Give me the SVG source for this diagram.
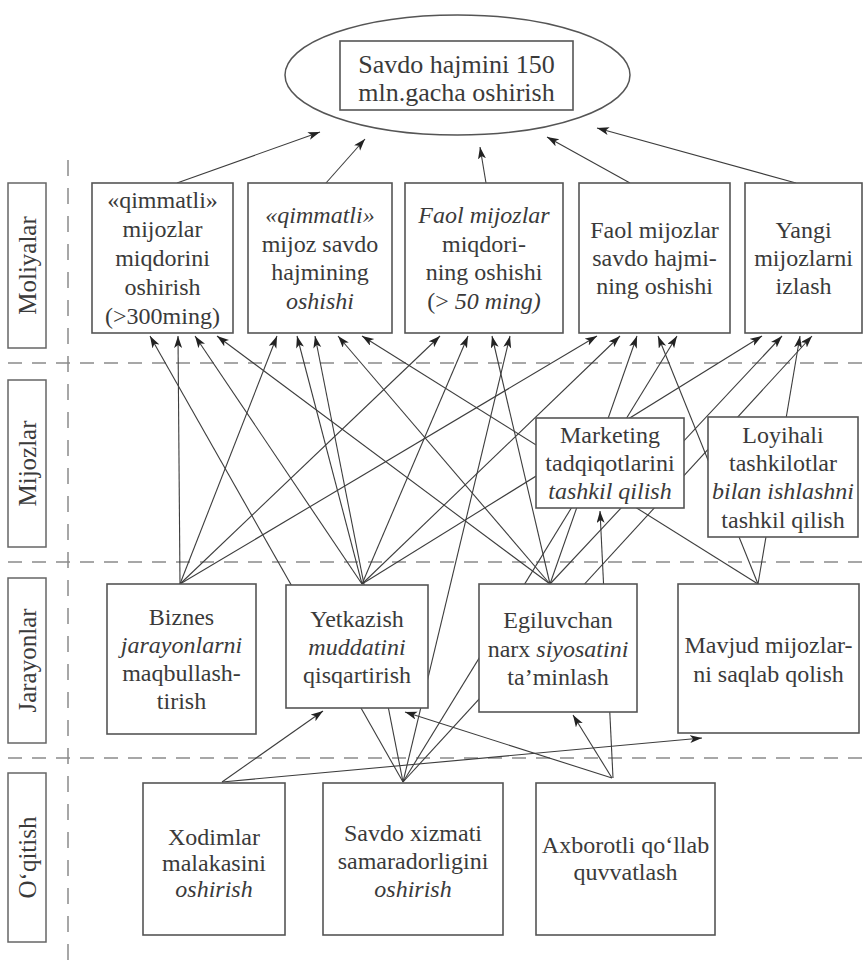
<svg xmlns="http://www.w3.org/2000/svg" width="866" height="962" viewBox="0 0 866 962" font-family="'Liberation Serif', 'DejaVu Serif', 'Times New Roman', serif">
<defs>
<marker id="ah" markerUnits="userSpaceOnUse" markerWidth="13" markerHeight="9" refX="12" refY="4" orient="auto">
<path d="M0,0 L12,4 L0,8 L3,4 z" fill="#222"/>
</marker>
<style>
.bx{fill:#fff;stroke:#555;stroke-width:1.6}
.lb{fill:#fff;stroke:#666;stroke-width:1.5}
.t{font-size:24px;fill:#3a3a3a;text-anchor:middle}
.lt{font-size:25px;fill:#3a3a3a;text-anchor:middle}
.i{font-style:italic}
.c line{stroke:#3d3d3d;stroke-width:1.1;marker-end:url(#ah)}
.d{stroke:#8a8a8a;stroke-width:1.5;stroke-dasharray:14 10;fill:none}
</style>
</defs>
<rect width="866" height="962" fill="#fff"/>

<g id="grid">
<line class="d" x1="8" y1="363" x2="866" y2="363"/>
<line class="d" x1="8" y1="562" x2="866" y2="562"/>
<line class="d" x1="8" y1="758" x2="866" y2="758"/>
<line class="d" x1="68" y1="160" x2="68" y2="960" style="stroke-dasharray:16 12"/>
</g>

<g id="lanes" font-family="'Liberation Serif', 'DejaVu Serif', serif">
<rect class="lb" x="8" y="183" width="38" height="165"/>
<text class="lt" font-family="'Liberation Serif', 'DejaVu Serif', serif" transform="translate(36,265.5) rotate(-90)">Moliyalar</text>
<rect class="lb" x="8" y="380" width="38" height="167"/>
<text class="lt" font-family="'Liberation Serif', 'DejaVu Serif', serif" transform="translate(36,463.5) rotate(-90)">Mijozlar</text>
<rect class="lb" x="8" y="578" width="38" height="165"/>
<text class="lt" font-family="'Liberation Serif', 'DejaVu Serif', serif" transform="translate(36,660.5) rotate(-90)">Jarayonlar</text>
<rect class="lb" x="8" y="773" width="38" height="169"/>
<text class="lt" font-family="'Liberation Serif', 'DejaVu Serif', serif" transform="translate(36,857.5) rotate(-90)">O‘qitish</text>
</g>

<g id="connectors" class="c">
<line x1="177" y1="183" x2="320" y2="132"/>
<line x1="326" y1="183" x2="365" y2="139"/>
<line x1="486" y1="183" x2="480" y2="147"/>
<line x1="630" y1="183" x2="547" y2="137"/>
<line x1="796" y1="183" x2="597" y2="128"/>
<line x1="403" y1="782" x2="150" y2="336"/>
<line x1="180" y1="584" x2="178" y2="336"/>
<line x1="362" y1="584" x2="195" y2="336"/>
<line x1="550" y1="584" x2="217" y2="336"/>
<line x1="180" y1="584" x2="277" y2="336"/>
<line x1="362" y1="584" x2="297" y2="336"/>
<line x1="403" y1="782" x2="315" y2="336"/>
<line x1="550" y1="584" x2="338" y2="336"/>
<line x1="758" y1="584" x2="362" y2="336"/>
<line x1="180" y1="584" x2="440" y2="336"/>
<line x1="362" y1="584" x2="468" y2="336"/>
<line x1="550" y1="584" x2="492" y2="336"/>
<line x1="403" y1="782" x2="510" y2="336"/>
<line x1="180" y1="584" x2="597" y2="336"/>
<line x1="362" y1="584" x2="620" y2="336"/>
<line x1="550" y1="584" x2="637" y2="336"/>
<line x1="758" y1="584" x2="658" y2="336"/>
<line x1="403" y1="782" x2="677" y2="336"/>
<line x1="362" y1="584" x2="762" y2="336"/>
<line x1="550" y1="584" x2="782" y2="336"/>
<line x1="758" y1="584" x2="800" y2="336"/>
<line x1="403" y1="782" x2="812" y2="336"/>
<line x1="222" y1="782" x2="323" y2="711"/>
<line x1="222" y1="782" x2="702" y2="738"/>
<line x1="612" y1="778" x2="405" y2="712"/>
<line x1="612" y1="778" x2="573" y2="715"/>
<line x1="613" y1="778" x2="600" y2="511"/>
</g>

<g id="goal">
<ellipse cx="457.5" cy="75" rx="172.5" ry="60" fill="#fff" stroke="#555" stroke-width="1.5"/>
<rect class="bx" x="340" y="41" width="233" height="69"/>
<text class="t" style="font-size:26px" x="456.5" y="73">Savdo hajmini 150</text>
<text class="t" style="font-size:26px" x="456.5" y="101">mln.gacha oshirish</text>
</g>

<g id="f1">
<rect class="bx" x="92" y="183" width="141" height="150"/>
<text class="t" x="162.5" y="208">«qimmatli»</text>
<text class="t" x="162.5" y="237">mijozlar</text>
<text class="t" x="162.5" y="266">miqdorini</text>
<text class="t" x="162.5" y="295">oshirish</text>
<text class="t" x="162.5" y="324">(&gt;300ming)</text>
</g>
<g id="f2">
<rect class="bx" x="248" y="183" width="144" height="150"/>
<text class="t i" x="320" y="223">«qimmatli»</text>
<text class="t" x="320" y="252">mijoz savdo</text>
<text class="t" x="320" y="280">hajmining</text>
<text class="t i" x="320" y="309">oshishi</text>
</g>
<g id="f3">
<rect class="bx" x="405" y="183" width="158" height="150"/>
<text class="t i" x="484" y="223">Faol mijozlar</text>
<text class="t" x="484" y="252">miqdori-</text>
<text class="t" x="484" y="280">ning oshishi</text>
<text class="t" x="484" y="309">(&gt; <tspan class="i">50 ming)</tspan></text>
</g>
<g id="f4">
<rect class="bx" x="579" y="183" width="151" height="150"/>
<text class="t" x="654.5" y="238">Faol mijozlar</text>
<text class="t" x="654.5" y="266">savdo hajmi-</text>
<text class="t" x="654.5" y="294">ning oshishi</text>
</g>
<g id="f5">
<rect class="bx" x="745" y="183" width="117" height="150"/>
<text class="t" x="803.5" y="238">Yangi</text>
<text class="t" x="803.5" y="266">mijozlarni</text>
<text class="t" x="803.5" y="294">izlash</text>
</g>

<g id="c1">
<rect class="bx" x="536" y="418" width="148" height="90"/>
<text class="t" x="610" y="443">Marketing</text>
<text class="t" x="610" y="471">tadqiqotlarini</text>
<text class="t i" x="610" y="499">tashkil qilish</text>
</g>
<g id="c2">
<rect class="bx" x="708" y="417" width="150" height="120"/>
<text class="t" x="783" y="443">Loyihali</text>
<text class="t" x="783" y="471">tashkilotlar</text>
<text class="t i" x="783" y="499">bilan ishlashni</text>
<text class="t" x="783" y="528">tashkil qilish</text>
</g>

<g id="p1">
<rect class="bx" x="107" y="584" width="149" height="150"/>
<text class="t" x="181.5" y="625">Biznes</text>
<text class="t i" x="181.5" y="653">jarayonlarni</text>
<text class="t" x="181.5" y="681">maqbullash-</text>
<text class="t" x="181.5" y="709">tirish</text>
</g>
<g id="p2">
<rect class="bx" x="286" y="585" width="142" height="123"/>
<text class="t" x="357" y="627">Yetkazish</text>
<text class="t i" x="357" y="655">muddatini</text>
<text class="t" x="357" y="683">qisqartirish</text>
</g>
<g id="p3">
<rect class="bx" x="479" y="584" width="158" height="128"/>
<text class="t" x="558" y="628">Egiluvchan</text>
<text class="t" x="558" y="657">narx <tspan class="i">siyosatini</tspan></text>
<text class="t" x="558" y="685">ta’minlash</text>
</g>
<g id="p4">
<rect class="bx" x="678" y="584" width="181" height="149"/>
<text class="t" x="768.5" y="653">Mavjud mijozlar-</text>
<text class="t" x="768.5" y="682">ni saqlab qolish</text>
</g>

<g id="o1">
<rect class="bx" x="143" y="783" width="142" height="152"/>
<text class="t" x="214" y="845">Xodimlar</text>
<text class="t" x="214" y="871">malakasini</text>
<text class="t i" x="214" y="897">oshirish</text>
</g>
<g id="o2">
<rect class="bx" x="323" y="783" width="180" height="152"/>
<text class="t" x="413" y="841">Savdo xizmati</text>
<text class="t" x="413" y="869">samaradorligini</text>
<text class="t i" x="413" y="897">oshirish</text>
</g>
<g id="o3">
<rect class="bx" x="536" y="783" width="179" height="152"/>
<text class="t" x="625.5" y="853">Axborotli qo‘llab</text>
<text class="t" x="625.5" y="880">quvvatlash</text>
</g>
</svg>
